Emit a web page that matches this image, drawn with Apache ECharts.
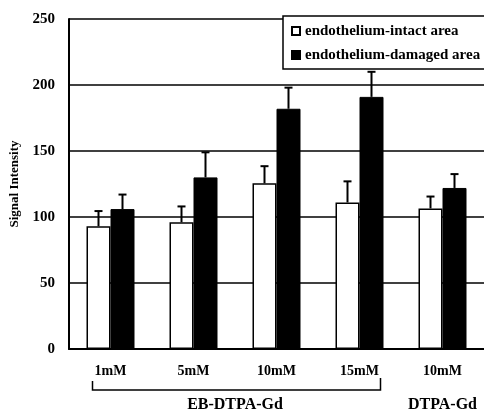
<!DOCTYPE html>
<html>
<head>
<meta charset="utf-8">
<script src="https://cdn.jsdelivr.net/npm/echarts@6/dist/echarts.min.js"></script>
<style>html,body{margin:0;padding:0;background:#fff;}#c{width:484px;height:416px;}</style>
</head>
<body>
<div id="c"></div>
<script>
var categories = ['1mM', '5mM', '10mM', '15mM', '10mM'];
var intactValues = [93, 96, 125.5, 111, 106.5];
var intactErrors = [11.5, 12, 13, 16, 9];
var damagedValues = [106, 130, 182, 191, 122];
var damagedErrors = [11, 19, 16, 19, 10.5];
var yTicks = [0, 50, 100, 150, 200, 250];
var groupNames = [
  { name: 'EB-DTPA-Gd', from: 0, to: 3, bracket: true },
  { name: 'DTPA-Gd', from: 4, to: 4, bracket: false }
];
var seriesNames = ['endothelium-intact area', 'endothelium-damaged area'];

var SERIF = '"Liberation Serif", "Times New Roman", serif';
var BAR_W = 24;

function errorSeries(values, errors, offset) {
  return {
    type: 'custom',
    silent: true,
    z: 5,
    data: values.map(function (v, i) { return [i, v, v + errors[i]]; }),
    renderItem: function (params, api) {
      var lo = api.coord([api.value(0), api.value(1)]);
      var hi = api.coord([api.value(0), api.value(2)]);
      var x = lo[0] + offset;
      var st = { stroke: '#000', lineWidth: 2 };
      return {
        type: 'group',
        children: [
          { type: 'line', shape: { x1: x, y1: lo[1], x2: x, y2: hi[1] }, style: st },
          { type: 'line', shape: { x1: x - 4, y1: hi[1], x2: x + 4, y2: hi[1] }, style: st }
        ]
      };
    }
  };
}

var chart = echarts.init(document.getElementById('c'));
chart.setOption({
  backgroundColor: '#fff',
  animation: false,
  grid: { left: 69, top: 19, width: 422, height: 330, containLabel: false },
  legend: {
    orient: 'vertical',
    left: 283, top: 16,
    padding: [6, 30, 5, 8],
    itemGap: 6,
    itemWidth: 8, itemHeight: 8,
    icon: 'rect',
    backgroundColor: '#fff',
    borderColor: '#000', borderWidth: 1.5,
    textStyle: { fontFamily: SERIF, fontSize: 15, fontWeight: 'bold', color: '#000', lineHeight: 18 },
    data: seriesNames
  },
  xAxis: {
    type: 'category',
    data: categories,
    axisTick: { show: false },
    axisLine: { lineStyle: { color: '#000', width: 2 } },
    axisLabel: { color: '#000', fontFamily: SERIF, fontSize: 14, fontWeight: 'bold', margin: 15 },
    splitLine: { show: false }
  },
  yAxis: {
    type: 'value',
    min: yTicks[0], max: yTicks[yTicks.length - 1], interval: 50,
    name: 'Signal Intensity',
    nameLocation: 'middle',
    nameGap: 44,
    nameTextStyle: { fontFamily: SERIF, fontSize: 13, fontWeight: 'bold', color: '#000' },
    axisLine: { show: true, lineStyle: { color: '#000', width: 2 } },
    axisTick: { show: false },
    axisLabel: { color: '#000', fontFamily: SERIF, fontSize: 15, fontWeight: 'bold', margin: 14 },
    splitLine: { lineStyle: { color: '#000', width: 1.5 } }
  },
  series: [
    {
      name: seriesNames[0], type: 'bar', data: intactValues,
      barWidth: BAR_W, barGap: '0%',
      itemStyle: { color: '#fff', borderColor: '#000', borderWidth: 1.5 }
    },
    {
      name: seriesNames[1], type: 'bar', data: damagedValues,
      barWidth: BAR_W, barGap: '0%',
      itemStyle: { color: '#000', borderColor: '#000', borderWidth: 1 }
    },
    errorSeries(intactValues, intactErrors, -BAR_W / 2),
    errorSeries(damagedValues, damagedErrors, BAR_W / 2)
  ]
});

var graphics = [];
var baseY = chart.convertToPixel({ yAxisIndex: 0 }, 0);
groupNames.forEach(function (g) {
  var x0 = chart.convertToPixel({ xAxisIndex: 0 }, g.from);
  var x1 = chart.convertToPixel({ xAxisIndex: 0 }, g.to);
  if (g.bracket) {
    var bl = x0 - 18, br = x1 + 21;
    graphics.push({
      type: 'polyline',
      shape: { points: [[bl, baseY + 32], [bl, baseY + 41], [br, baseY + 41], [br, baseY + 29]] },
      style: { stroke: '#000', lineWidth: 1.5, fill: null }
    });
  }
  graphics.push({
    type: 'text',
    x: (x0 + x1) / 2, y: baseY + 56,
    style: {
      text: g.name, fill: '#000', font: 'bold 16px ' + SERIF,
      textAlign: 'center', textVerticalAlign: 'middle'
    }
  });
});
chart.setOption({ graphic: graphics });
</script>
</body>
</html>
